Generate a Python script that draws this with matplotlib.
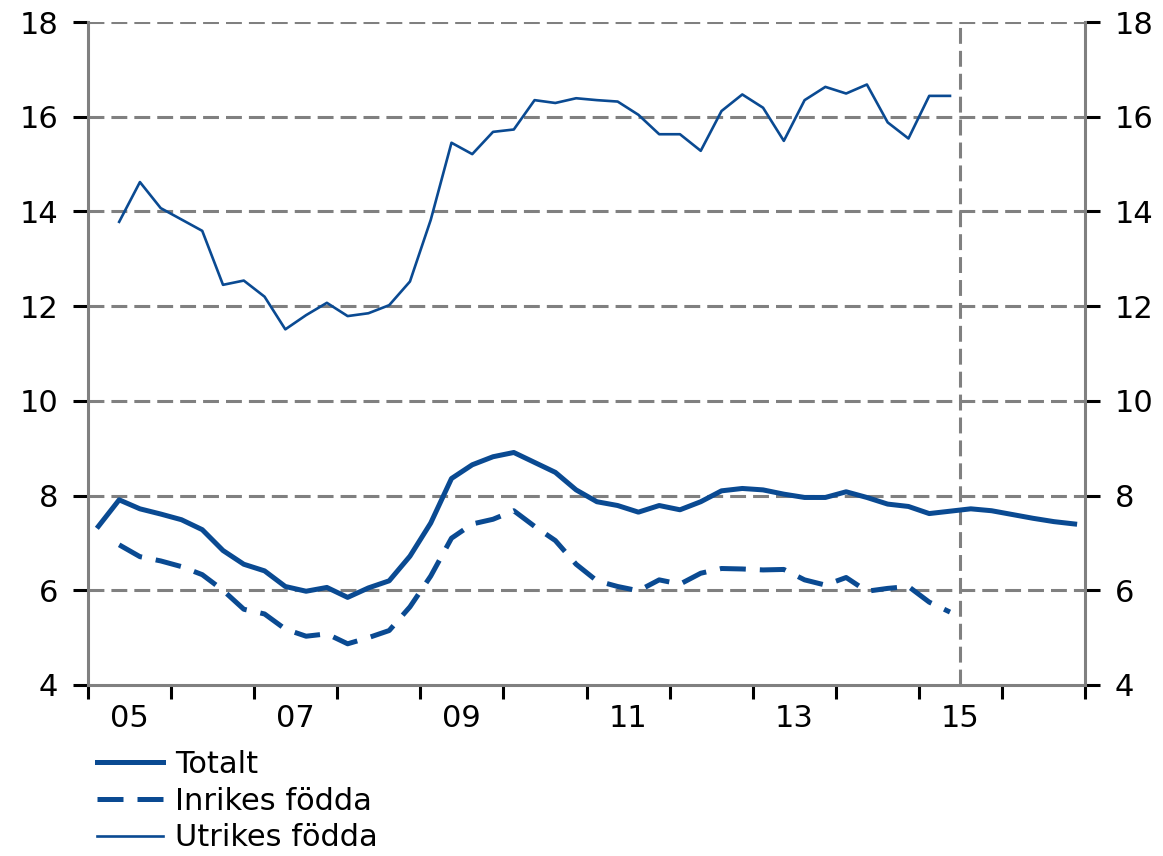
import numpy as np
import matplotlib
matplotlib.use("Agg")
import matplotlib.pyplot as plt
from matplotlib.ticker import FixedLocator, FixedFormatter

# Quarterly data, Q1 2005 - Q4 2016
totalt = [7.35, 7.91, 7.72, 7.61,
          7.49, 7.28, 6.84, 6.55,
          6.41, 6.08, 5.98, 6.06,
          5.85, 6.05, 6.20, 6.72,
          7.42, 8.36, 8.65, 8.82,
          8.91, 8.70, 8.49, 8.12,
          7.87, 7.79, 7.65, 7.79,
          7.70, 7.87, 8.10, 8.15,
          8.12, 8.03, 7.96, 7.96,
          8.08, 7.96, 7.82, 7.77,
          7.62, 7.67, 7.72, 7.68,
          7.60, 7.52, 7.45, 7.40]

# Q2 2005 - Q2 2015
inrikes = [6.96, 6.71, 6.62,
           6.50, 6.33, 6.00, 5.60,
           5.50, 5.18, 5.03, 5.08,
           4.87, 5.00, 5.15, 5.65,
           6.30, 7.10, 7.40, 7.50,
           7.68, 7.35, 7.05, 6.55,
           6.20, 6.08, 5.99, 6.22,
           6.13, 6.36, 6.46, 6.45,
           6.43, 6.44, 6.22, 6.11,
           6.27, 5.98, 6.04, 6.08,
           5.75, 5.54]

utrikes = [13.78, 14.62, 14.07,
           13.83, 13.59, 12.45, 12.54,
           12.20, 11.51, 11.81, 12.07,
           11.79, 11.85, 12.02, 12.52,
           13.82, 15.45, 15.21, 15.68,
           15.73, 16.35, 16.29, 16.39,
           16.35, 16.32, 16.04, 15.63,
           15.63, 15.28, 16.12, 16.47,
           16.19, 15.49, 16.35, 16.63,
           16.49, 16.68, 15.88, 15.54,
           16.44, 16.44]

labels = ["Totalt", "Inrikes födda", "Utrikes födda"]
year_labels = ["05", "07", "09", "11", "13", "15"]
start_year = 2005
end_year = 2017
forecast_start = 2015.5

q_tot = start_year + (np.arange(len(totalt)) + 0.5) / 4
q_sub = start_year + (np.arange(len(inrikes)) + 1.5) / 4

blue = "#0A4A92"
grid_gray = "#808080"
fs = 22

plt.rcParams['font.family'] = ['DejaVu Sans']
fig = plt.figure(figsize=(11.63, 8.56), dpi=100)
ax = fig.add_axes([88/1163, 1-685/856, (1085-88)/1163, (685-22)/856])

for y in range(6, 19, 2):
    ax.axhline(y, color=grid_gray, lw=2.2, dashes=(5.2, 2.3), zorder=1)
ax.axvline(forecast_start, color=grid_gray, lw=2.2, dashes=(5.2, 2.3), zorder=1)

l1, = ax.plot(q_tot, totalt, color=blue, lw=3.6, solid_joinstyle='round', zorder=3)
l2, = ax.plot(q_sub, inrikes, color=blue, lw=3.6, dashes=(5.2, 2.8), zorder=3)
l3, = ax.plot(q_sub, utrikes, color=blue, lw=1.9, zorder=3)

ax.set_xlim(start_year, end_year)
ax.set_ylim(4, 18)

for s in ['left', 'right', 'bottom']:
    ax.spines[s].set_color(grid_gray)
    ax.spines[s].set_linewidth(2.2)
ax.spines['top'].set_visible(False)

ax.set_yticks(range(4, 19, 2))
ax.yaxis.set_ticks_position('both')
ax.tick_params(axis='y', which='major', direction='out', length=10.5, width=2.2,
               color='black', labelsize=fs, labelright=True, pad=11)

ax.xaxis.set_major_locator(FixedLocator(np.arange(start_year, end_year + 1)))
ax.xaxis.set_major_formatter(FixedFormatter([]))
ax.xaxis.set_minor_locator(FixedLocator([start_year + 0.5 + 2*i for i in range(len(year_labels))]))
ax.xaxis.set_minor_formatter(FixedFormatter(year_labels))
ax.tick_params(axis='x', which='major', direction='out', length=10, width=2.2, color='black')
ax.tick_params(axis='x', which='minor', length=0, labelsize=fs, pad=14)

fig.legend([l1, l2, l3], labels, loc='upper left',
           bbox_to_anchor=(97/1163, 1-750/856), frameon=False, fontsize=fs,
           handlelength=2.16, handletextpad=0.4, labelspacing=0.25,
           borderaxespad=0, borderpad=0)

fig.savefig("out.png", dpi=100)
